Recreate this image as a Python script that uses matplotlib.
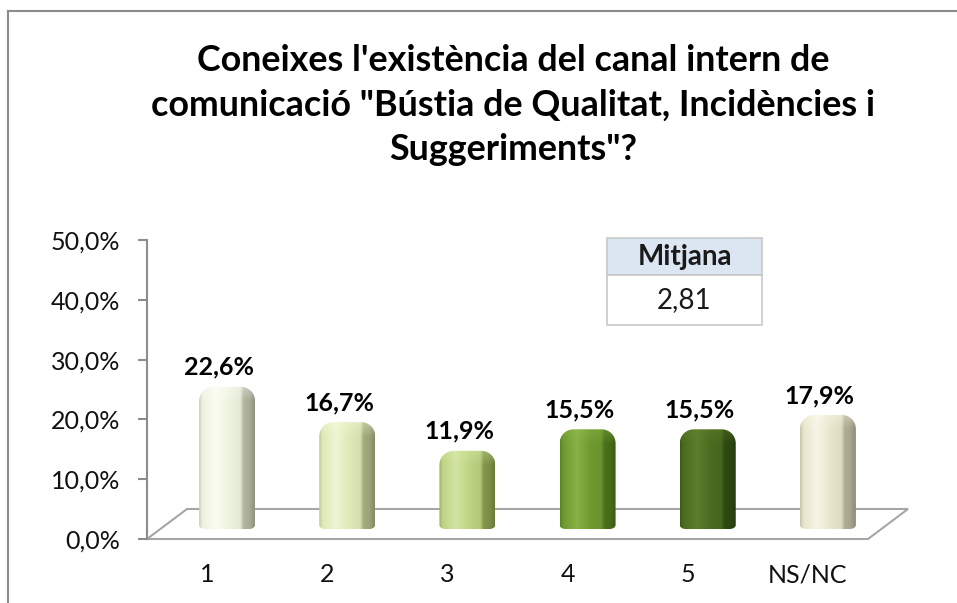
import numpy as np
import matplotlib
matplotlib.use("Agg")
import matplotlib.pyplot as plt
from matplotlib.path import Path
from matplotlib.patches import PathPatch, Polygon
from matplotlib.lines import Line2D
from matplotlib.colors import to_rgb

# ---------------- data ----------------
categories = ["1", "2", "3", "4", "5", "NS/NC"]
values = [22.6, 16.7, 11.9, 15.5, 15.5, 17.9]
value_labels = ["22,6%", "16,7%", "11,9%", "15,5%", "15,5%", "17,9%"]
y_ticks = [0, 10, 20, 30, 40, 50]
y_tick_labels = ["0,0%", "10,0%", "20,0%", "30,0%", "40,0%", "50,0%"]
title_lines = ["Coneixes l'existència del canal intern de",
               "comunicació \"Bústia de Qualitat, Incidències i",
               "Suggeriments\"?"]
mean_header = "Mitjana"
mean_value = "2,81"

base_colors = ["#eef3df", "#dde9b6", "#bdd383", "#6f9a30", "#4b6b20", "#e8e5cd"]
light_colors = ["#fafcf2", "#eef5d4", "#d3e4a3", "#88b245", "#5c7e2b", "#f6f4e6"]
side_colors = ["#a9ad97", "#9ba477", "#7d8f46", "#476c19", "#2d4611", "#a8a58d"]

W, H = 957, 603
fig = plt.figure(figsize=(W / 100, H / 100), dpi=100)
fig.patch.set_facecolor("white")

FONT = "Lato"
LBL = 18

# axes: front-left corner at (147, 539), 50% at y=240, right edge to 908 px
x_left, x_right, y_bot, y_top = 147, 908, 539, 240
cat_px = (868 - 147) / 6.0
ax = fig.add_axes([x_left / W, (H - y_bot) / H, (x_right - x_left) / W, (y_bot - y_top) / H])
ax.set_facecolor("none")
xmin = -0.5
xmax = xmin + (x_right - x_left) / cat_px
ax.set_xlim(xmin, xmax)
ax.set_ylim(0, 50)
px_y = (y_bot - y_top) / 50.0  # pixels per data unit (y)

depth_x = 40 / cat_px
depth_y = 30 / px_y

for s in ["top", "right", "bottom"]:
    ax.spines[s].set_visible(False)
ax.spines["left"].set_color("#8c8c8c")
ax.spines["left"].set_linewidth(1.5)
ax.set_xticks([])
ax.set_yticks(y_ticks)
ax.set_yticklabels(y_tick_labels, fontsize=LBL, fontfamily=FONT, color="#111111")
ax.tick_params(axis="y", direction="out", length=6.5, width=1.5, color="#8c8c8c", pad=13)

# floor
n = len(categories)
floor = Polygon([(xmin, 0), (xmin + n, 0), (xmin + n + depth_x, depth_y), (xmin + depth_x, depth_y)],
                closed=True, facecolor="white", edgecolor="#a6a6a6", lw=1.5, zorder=1,
                clip_on=False)
ax.add_patch(floor)


def rounded_bar_path(x0, x1, y0, y1, rx, ry, brx, bry):
    k = 0.5523
    verts = [
        (x0, y0 + bry),
        (x0, y1 - ry),
        (x0, y1 - ry + k * ry), (x0 + rx - k * rx, y1), (x0 + rx, y1),
        (x1 - rx, y1),
        (x1 - rx + k * rx, y1), (x1, y1 - ry + k * ry), (x1, y1 - ry),
        (x1, y0 + bry),
        (x1, y0 + bry - k * bry), (x1 - brx + k * brx, y0), (x1 - brx, y0),
        (x0 + brx, y0),
        (x0 + brx - k * brx, y0), (x0, y0 + bry - k * bry), (x0, y0 + bry),
        (x0, y0 + bry),
    ]
    codes = [Path.MOVETO, Path.LINETO,
             Path.CURVE4, Path.CURVE4, Path.CURVE4,
             Path.LINETO,
             Path.CURVE4, Path.CURVE4, Path.CURVE4,
             Path.LINETO,
             Path.CURVE4, Path.CURVE4, Path.CURVE4,
             Path.LINETO,
             Path.CURVE4, Path.CURVE4, Path.CURVE4,
             Path.CLOSEPOLY]
    return Path(verts, codes)


def bar_image(base, light, side, nrows, ncols=120, cap_rows=14):
    b = np.array(to_rgb(base))
    l = np.array(to_rgb(light))
    s = np.array(to_rgb(side))
    t = np.linspace(0, 1, ncols)
    kp_t = [0.0, 0.06, 0.30, 0.55, 0.74, 0.80, 0.90, 1.0]
    kp_c = [0.5 * b + 0.5 * s, b, l, b, 0.85 * b + 0.15 * s, s * 1.05, s, 0.85 * s]
    kp_c = np.clip(np.array(kp_c), 0, 1)
    row = np.zeros((ncols, 3))
    for c in range(3):
        row[:, c] = np.interp(t, kp_t, kp_c[:, c])
    img = np.repeat(row[None, :, :], nrows, axis=0)
    cap = min(cap_rows, nrows)
    for i in range(cap):
        f = (1 - i / cap) * 0.35
        r = nrows - 1 - i
        img[r] = img[r] * (1 - f) + np.clip(l * 1.04, 0, 1) * f
    return np.clip(img, 0, 1)


bar_w = 56 / cat_px
bar_shift = depth_x / 2
base_level = 17 / px_y      # bar base, at mid depth of floor
bottom_level = 10 / px_y    # visible bottom
r_px = 14
for i, v in enumerate(values):
    xc = i + bar_shift
    x0, x1 = xc - bar_w / 2, xc + bar_w / 2
    y0 = bottom_level
    y1 = base_level + v
    path = rounded_bar_path(x0, x1, y0, y1, r_px / cat_px, r_px / px_y, 6 / cat_px, 4 / px_y)
    patch = PathPatch(path, facecolor="none", edgecolor="none", zorder=2)
    ax.add_patch(patch)
    nrows = max(int((y1 - y0) * px_y), 2)
    img = bar_image(base_colors[i], light_colors[i], side_colors[i], nrows)
    im = ax.imshow(img, extent=(x0, x1, y0, y1), origin="lower", aspect="auto",
                   interpolation="bilinear", zorder=2)
    im.set_clip_path(patch)
    ax.text(i + 12 / cat_px, y1 + 19.5 / px_y, value_labels[i], ha="center", va="center",
            fontsize=LBL, fontweight="bold", fontfamily=FONT, color="black", zorder=3)
    ax.text(i, -36 / px_y, categories[i], ha="center", va="center", fontsize=LBL,
            fontfamily=FONT, color="#111111", clip_on=False)

ax.set_xlim(xmin, xmax)
ax.set_ylim(0, 50)

# title lines, fit size so the widest line matches reference width
renderer = fig.canvas.get_renderer()
baselines = [71, 116, 160]
center_x = 513
tmp = fig.text(0, 0, title_lines[1], fontsize=20, fontweight="bold", fontfamily=FONT)
wpx = tmp.get_window_extent(renderer).width
tmp.remove()
tsize = 20 * 725 / wpx
for line, yb in zip(title_lines, baselines):
    fig.text(center_x / W, 1 - yb / H, line, ha="center", va="baseline",
             fontsize=tsize, fontweight="bold", fontfamily=FONT, color="black")

# mean table
tx0, tx1, ty0, ty1, tmid = 607, 762, 238, 325, 275
tax = fig.add_axes([tx0 / W, (H - ty1) / H, (tx1 - tx0) / W, (ty1 - ty0) / H])
tax.axis("off")
tbl = tax.table(cellText=[[mean_header], [mean_value]], bbox=[0, 0, 1, 1], cellLoc="center")
hdr_frac = (tmid - ty0) / (ty1 - ty0)
c0 = tbl[0, 0]
c1 = tbl[1, 0]
c0.set_height(hdr_frac)
c1.set_height(1 - hdr_frac)
c0.set_facecolor("#dce6f2")
c1.set_facecolor("white")
for c in (c0, c1):
    c.set_edgecolor("#c8c8c8")
    c.set_linewidth(1.2)
tbl.auto_set_font_size(False)
c0.get_text().set_fontsize(20)
c0.get_text().set_fontweight("bold")
c0.get_text().set_fontfamily(FONT)
c0.get_text().set_color("#1a1a1a")
c1.get_text().set_fontsize(20)
c1.get_text().set_fontfamily(FONT)
c1.get_text().set_color("#1a1a1a")

# chart outer border (top and left)
fig.add_artist(Line2D([8 / W, 1], [1 - 11 / H, 1 - 11 / H], transform=fig.transFigure,
                      color="#8c8c8c", lw=1.5))
fig.add_artist(Line2D([8 / W, 8 / W], [0, 1 - 11 / H], transform=fig.transFigure,
                      color="#8c8c8c", lw=1.5))

fig.savefig("out.png", dpi=100, facecolor="white")
